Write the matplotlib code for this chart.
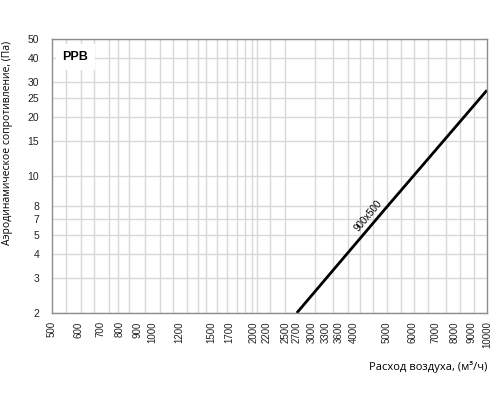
import matplotlib
matplotlib.use('Agg')
import matplotlib.pyplot as plt
from matplotlib.ticker import FixedLocator, NullFormatter

# line (log-log axes)
flow = [2700, 5000, 10000]
pressure = [2.0, 6.9, 27.4]
series_name = '900x500'
title = 'PPB'

x_ticks = [500, 600, 700, 800, 900, 1000, 1200, 1500, 1700, 2000, 2200,
           2500, 2700, 3000, 3300, 3600, 4000, 5000, 6000, 7000, 8000,
           9000, 10000]
# vertical grid lines as drawn in the reference (irregular)
x_grid = [550, 610, 670, 740, 790, 850, 950, 1050, 1150, 1270, 1370, 1450,
          1560, 1670, 1790, 1890, 1980, 2060, 2250, 2490, 2700, 3070, 3460,
          3830, 4180, 4570, 5030, 5550, 6060, 6680, 7520, 8330, 9170]
# the reference labels the 6 and 7 lines as "7" and "8"
y_ticks = [2, 3, 4, 5, 6, 7, 10, 15, 20, 25, 30, 40, 50]
y_labels = ['2', '3', '4', '5', '7', '8', '10', '15', '20', '25', '30', '40', '50']

plt.rcParams['font.family'] = ['Liberation Sans', 'DejaVu Sans']

fig = plt.figure(figsize=(5, 4), dpi=100)
ax = fig.add_axes([0.1034, 0.2175, 0.8706, 0.685])

ax.set_xscale('log')
ax.set_yscale('log')
ax.set_xlim(500, 10000)
ax.set_ylim(2, 50)

ax.xaxis.set_major_locator(FixedLocator(x_ticks))
ax.xaxis.set_minor_locator(FixedLocator(x_grid))
ax.xaxis.set_minor_formatter(NullFormatter())
ax.set_xticklabels([str(v) for v in x_ticks], rotation=90, fontsize=7, color='#222222')
ax.yaxis.set_major_locator(FixedLocator(y_ticks))
ax.yaxis.set_minor_locator(FixedLocator([]))
ax.set_yticklabels(y_labels, fontsize=7.5, color='#222222')

ax.tick_params(axis='both', which='both', length=0)
ax.tick_params(axis='x', pad=6)
ax.tick_params(axis='y', pad=9)

ax.grid(True, axis='y', which='major', color='#d8d8d8', lw=1)
ax.grid(True, axis='x', which='minor', color='#d8d8d8', lw=1)
ax.set_axisbelow(True)

for sp in ax.spines.values():
    sp.set_color('#8c8c8c')
    sp.set_linewidth(1)

ax.plot(flow, pressure, color='black', lw=2, solid_capstyle='butt', clip_on=False)

ax.text(4400, 6.3, series_name, rotation=50, fontsize=7, ha='center', va='center',
        rotation_mode='anchor')

ax.text(0.025, 0.934, title, transform=ax.transAxes, fontsize=9, fontweight='bold',
        ha='left', va='center',
        bbox=dict(facecolor='white', edgecolor='none', pad=5))

fig.text(0.974, 0.083, 'Расход воздуха, (м³/ч)', fontsize=8, ha='right', va='center',
         family=['Open Sans', 'DejaVu Sans'])
fig.text(0.016, 0.6425, 'Аэродинамическое сопротивление, (Па)', fontsize=7.5,
         rotation=90, ha='center', va='center', family=['Open Sans', 'DejaVu Sans'])

fig.savefig('out.png', dpi=100)
